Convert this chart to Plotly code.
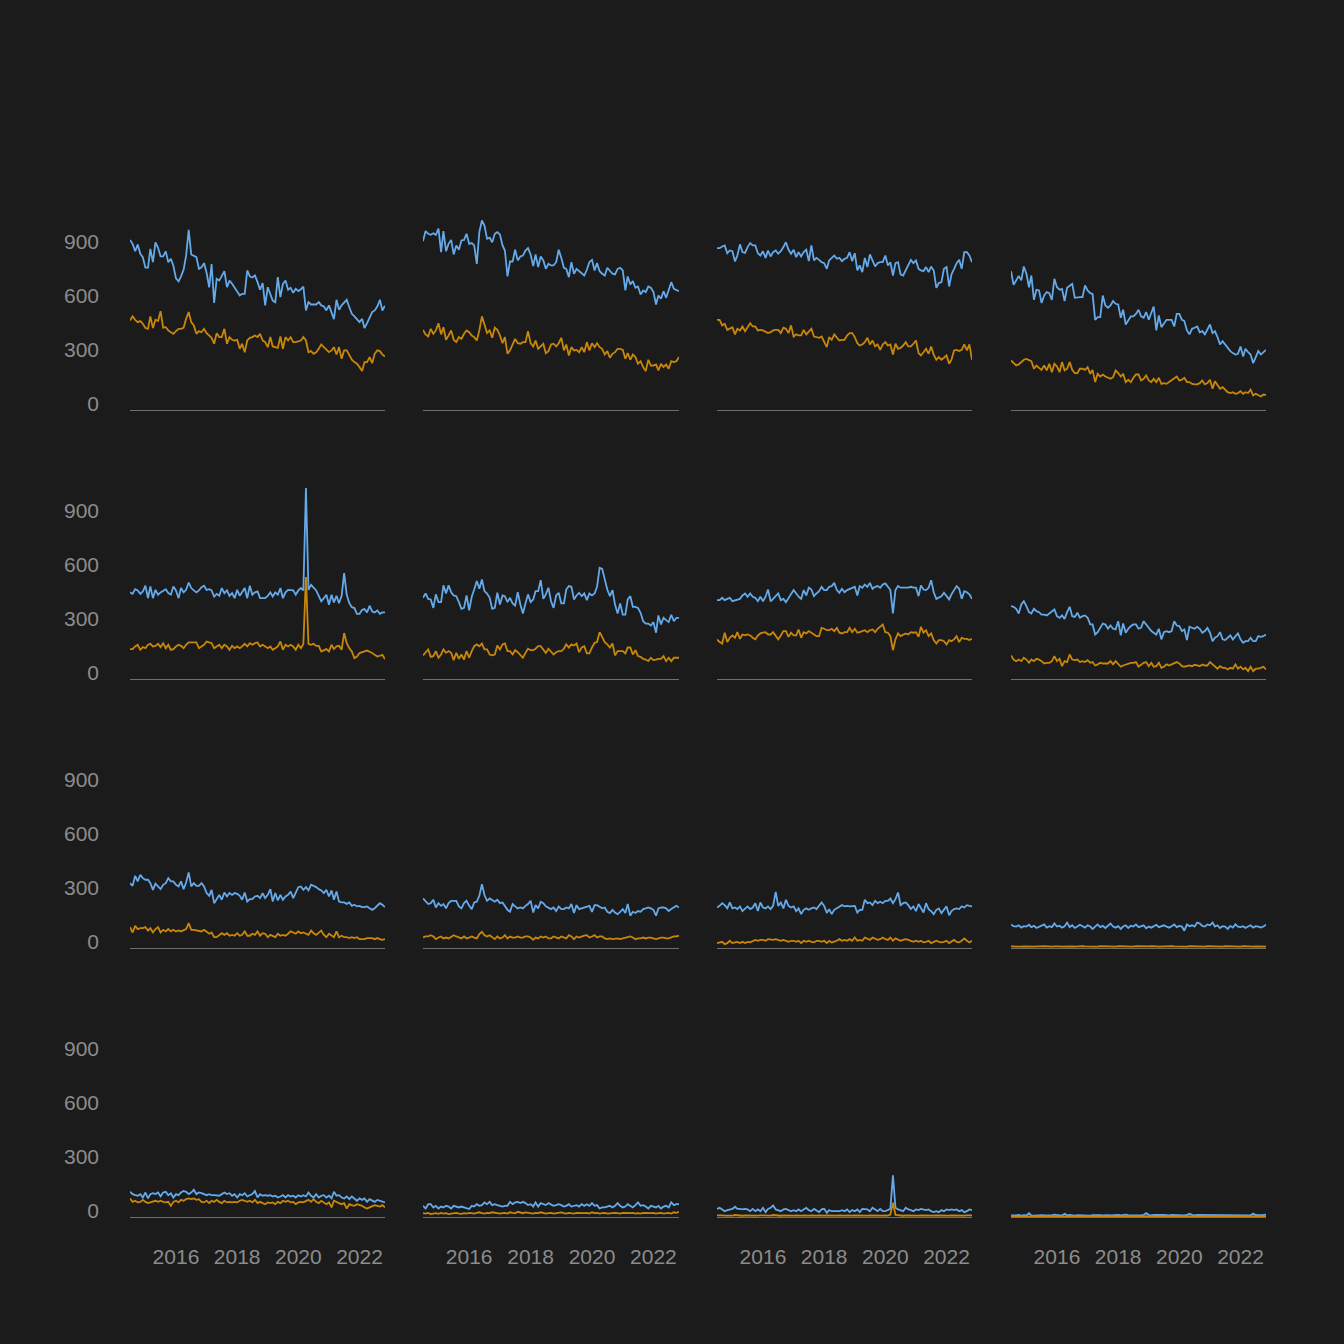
import plotly.graph_objects as go
import pandas as pd

# ---------------- data (monthly, Jul 2014 .. Nov 2022) ----------------
start_month = "2014-07-01"
end_month = "2022-11-01"
year_ticks = ["2016-01-01", "2018-01-01", "2020-01-01", "2022-01-01"]
year_labels = ["2016", "2018", "2020", "2022"]
y_ticks = [0, 300, 600, 900]

p1_blue = [944,922,881,918,867,848,790,790,894,820,
930,900,852,852,880,820,839,800,730,713,
741,778,857,1000,863,857,848,783,792,815,
760,680,810,594,728,718,740,770,681,718,
700,678,659,635,644,644,774,741,735,746,
709,667,704,580,681,640,607,598,737,626,
700,718,667,678,650,672,660,670,685,552,
598,585,585,585,598,580,574,552,580,533,
504,611,556,580,598,611,570,533,519,500,
487,505,454,481,515,543,552,574,611,552,
578]
p1_orange = [496,519,500,487,493,478,454,450,519,454,
500,493,548,456,459,441,431,422,437,450,
450,456,506,543,487,469,422,437,431,450,
426,413,400,367,426,404,404,450,367,404,
389,385,389,339,367,320,385,400,404,413,
404,422,385,376,348,404,352,348,344,407,
339,404,385,404,376,376,381,385,404,385,
320,326,311,320,339,363,348,333,320,330,
348,307,348,283,330,330,302,278,265,256,
237,215,265,265,293,259,311,330,326,307,
296]

p2_blue = [937,993,978,972,981,972,1006,876,993,881,
922,944,863,913,889,941,944,978,922,926,
913,811,987,1052,1024,950,956,931,978,987,
974,913,885,741,824,824,889,830,852,857,
885,898,863,798,863,793,852,830,783,811,
802,802,820,889,844,789,783,737,820,756,
783,770,759,746,778,820,833,774,815,770,
756,746,789,774,756,752,783,789,774,663,
741,696,715,678,685,641,663,654,685,678,
654,585,635,617,659,622,667,709,672,667,
659]
p2_orange = [444,419,407,450,422,441,481,419,459,389,
413,441,389,376,404,394,422,441,431,413,
404,385,441,519,474,426,441,400,456,444,
413,370,404,311,330,367,394,370,367,376,
376,437,370,352,385,339,352,367,315,326,
363,367,352,370,400,330,363,302,348,330,
333,320,348,320,376,330,370,348,370,348,
339,307,326,289,311,320,339,339,333,283,
315,278,307,293,256,270,237,215,278,246,
246,252,219,256,237,252,228,270,265,270,
293]

p3_blue = [898,898,907,913,870,885,881,824,857,919,
876,872,904,926,913,913,870,857,881,844,
885,852,876,885,867,881,904,931,889,867,
889,848,876,852,876,889,826,913,830,844,
833,820,815,783,830,844,857,839,844,826,
839,844,876,826,870,774,802,765,844,793,
863,830,796,815,820,820,857,802,820,746,
815,820,752,746,774,807,833,815,830,783,
774,770,793,765,796,774,678,704,709,783,
793,685,752,783,815,833,783,876,876,857,
820]
p3_orange = [500,500,469,478,444,450,459,419,450,441,
463,437,463,481,463,463,441,444,441,431,
426,431,441,444,444,426,456,450,426,469,
407,419,413,413,444,419,437,450,407,404,
400,407,376,348,404,389,419,400,385,389,
389,413,426,426,404,370,357,363,376,400,
363,385,352,363,333,363,376,357,363,307,
367,339,344,357,376,352,352,367,385,315,
302,320,339,311,352,307,278,293,278,289,
302,256,278,330,333,326,333,363,330,363,
278]

p4_blue = [770,694,719,744,719,796,756,681,746,611,
667,663,593,635,654,648,611,728,681,667,
672,604,678,691,700,622,626,626,626,691,
663,648,644,500,515,515,635,580,567,580,
604,589,585,511,556,474,496,519,519,533,
556,519,511,543,500,543,574,441,524,459,
481,500,500,500,463,533,533,500,493,441,
419,450,456,463,431,437,419,450,474,426,
437,404,363,381,363,344,326,315,307,311,
352,296,339,320,307,259,296,326,307,320,
333]
p4_orange = [274,259,246,252,265,278,283,274,270,228,
246,233,222,246,219,256,209,256,241,209,
265,219,228,265,222,204,204,228,228,222,
237,200,222,154,200,185,196,185,178,172,
181,219,204,185,200,154,167,154,178,196,
196,163,172,191,163,154,172,154,178,144,
148,144,154,163,172,185,163,167,178,154,
154,144,141,141,148,163,141,148,167,117,
159,135,117,126,111,98,93,98,89,93,
104,89,98,93,111,80,89,80,74,85,
83]

p5_blue = [480,472,498,491,472,485,517,448,513,448,
494,467,480,491,498,476,467,513,491,448,
504,480,494,535,504,491,480,491,509,517,
494,498,491,457,472,461,504,476,491,461,
476,448,494,461,480,504,448,517,467,480,
485,448,448,448,461,480,457,480,467,504,
448,480,494,494,491,467,491,504,491,1060,
494,522,509,491,461,430,448,467,411,467,
424,461,420,461,587,467,420,398,393,361,
361,383,387,369,406,374,369,380,361,369,
369]
p5_orange = [165,165,180,189,161,176,170,189,194,180,
183,194,176,198,170,189,161,165,180,189,
183,170,189,202,202,202,202,170,180,189,
207,202,198,170,180,189,170,189,180,161,
183,170,180,170,180,194,180,198,189,198,
202,180,189,180,170,180,161,170,180,207,
161,189,180,189,180,161,189,170,194,565,
194,189,194,183,183,152,161,165,152,189,
165,180,183,161,254,198,170,152,115,124,
143,146,152,157,152,143,133,124,128,133,
109]

p6_blue = [450,474,444,441,394,469,426,426,519,474,
519,481,463,459,426,389,394,463,381,456,
496,543,500,552,487,474,450,389,394,478,
413,463,459,426,450,419,407,481,413,363,
419,469,426,441,487,487,548,444,469,506,
431,394,463,478,419,419,496,515,511,441,
463,478,459,474,437,474,463,474,511,617,
611,543,496,459,493,413,363,419,357,357,
441,459,400,400,394,367,320,307,307,296,
315,256,352,302,339,326,315,356,320,339,
339]
p6_orange = [130,148,163,122,126,154,117,135,163,144,
154,144,104,144,111,135,107,154,117,154,
181,191,181,196,163,163,135,130,135,185,
163,191,196,154,154,135,159,148,135,117,
144,167,159,159,167,181,181,163,144,167,
148,135,148,154,154,167,191,174,191,185,
196,148,174,181,141,141,174,200,204,259,
233,204,191,174,196,130,154,154,154,141,
174,174,135,159,126,122,111,107,98,117,
104,107,111,111,126,98,117,98,117,117,
117]

p7_blue = [437,437,450,437,444,450,431,437,441,444,
463,474,456,474,456,450,431,456,431,456,
496,431,444,459,474,437,444,426,450,474,
493,474,456,444,493,463,506,496,459,474,
487,511,493,493,511,515,533,493,478,500,
481,493,500,506,511,463,515,506,524,511,
533,500,511,515,506,524,530,511,493,363,
493,515,506,506,506,506,511,506,506,459,
519,496,493,506,548,481,444,450,459,478,
459,441,469,496,515,500,444,487,481,469,
444]
p7_orange = [219,204,196,256,204,228,241,228,259,222,
246,241,246,241,228,219,241,252,256,259,
246,246,259,237,219,241,265,265,233,256,
241,241,274,228,259,252,265,256,246,237,
237,283,278,270,270,278,265,283,256,252,
259,259,283,259,278,256,259,265,270,259,
270,274,259,278,289,302,259,256,237,159,
219,252,237,246,252,246,259,256,259,233,
289,256,270,237,252,215,196,215,215,209,
191,215,209,219,237,204,228,222,222,215,
222]

p8_blue = [404,400,389,363,413,431,404,370,363,389,
376,370,357,357,352,363,376,385,348,339,
352,333,370,400,348,344,367,339,348,352,
339,302,302,246,259,283,307,302,278,296,
278,274,320,241,307,256,278,293,302,302,
278,283,320,302,283,265,256,246,278,219,
259,265,259,265,320,296,293,265,274,215,
289,283,278,289,278,256,265,283,256,209,
228,237,259,219,215,228,241,219,237,252,
219,200,209,209,228,209,209,237,233,237,
246]
p8_orange = [130,107,98,107,98,117,107,89,107,98,
111,107,98,85,89,89,98,126,98,111,
70,98,93,135,107,104,107,93,98,93,
104,89,93,74,80,89,85,85,85,98,
80,98,80,67,74,80,85,89,89,93,
67,80,89,93,70,89,67,70,89,61,
67,80,74,80,85,93,85,70,67,70,
74,70,78,74,70,80,74,74,93,80,
70,56,70,61,61,52,61,56,80,56,
67,52,61,43,67,43,56,56,61,67,
52]

p9_blue = [359,344,400,369,406,387,378,378,359,322,
356,341,326,350,359,387,369,369,350,341,
369,326,363,419,341,359,344,344,359,341,
304,289,322,248,270,294,267,307,285,304,
294,304,300,289,267,307,257,270,270,285,
289,276,304,276,294,326,257,304,263,294,
267,285,294,313,276,307,337,341,322,337,
319,350,344,337,326,319,304,322,285,319,
267,313,257,252,252,244,252,233,239,230,
233,226,226,230,220,211,220,233,248,239,
226]
p9_orange = [115,85,122,104,109,109,115,96,109,85,
104,115,85,100,91,104,91,100,91,96,
91,100,104,137,100,100,96,96,91,100,
91,78,85,59,59,72,81,72,81,67,
72,67,81,67,72,91,67,67,78,72,
91,67,81,78,59,72,67,59,78,67,
72,67,78,91,85,78,91,81,85,78,
72,96,81,72,85,96,72,59,78,67,
59,91,59,67,59,59,54,59,54,59,
48,48,48,54,54,54,48,54,48,44,
48]

p10_blue = [274,261,243,248,267,224,248,233,243,219,
248,261,261,261,230,219,248,261,233,215,
252,256,289,354,293,261,274,267,256,267,
248,252,233,211,200,243,230,219,224,219,
233,243,261,196,237,219,256,248,230,224,
215,224,204,230,215,215,224,219,243,193,
237,215,219,224,230,233,200,237,237,230,
219,224,200,193,211,196,187,200,215,193,
243,178,200,193,204,200,215,219,224,219,
211,178,219,224,224,219,204,215,224,233,
224]
p10_orange = [57,63,63,70,63,48,57,63,52,57,
52,63,70,63,57,52,63,52,57,63,
57,52,76,89,70,63,70,57,48,63,
52,57,70,52,63,57,57,63,57,57,
63,63,57,44,57,52,63,57,63,52,
52,63,57,52,63,57,52,70,63,48,
63,57,63,67,70,57,63,70,57,63,
63,52,48,52,48,52,52,48,52,57,
63,63,57,48,52,52,57,52,57,57,
52,48,52,57,57,52,52,57,63,63,
67]

p11_blue = [224,233,248,237,219,252,219,224,215,230,
204,219,230,215,224,248,204,252,224,219,
230,215,233,311,233,252,219,267,233,224,
230,204,219,187,211,219,211,219,224,215,
237,252,233,193,215,187,211,219,230,237,
230,233,230,233,233,196,211,211,267,248,
252,237,261,248,256,248,261,261,274,248,
270,307,237,248,252,237,215,230,204,243,
224,196,248,215,204,187,211,219,193,215,
230,181,204,215,219,215,230,224,237,233,
230]
p11_orange = [26,30,33,20,26,39,26,30,33,26,
33,26,33,30,39,44,39,44,44,39,
48,44,44,48,44,39,44,39,33,39,
39,33,39,26,39,33,39,33,30,39,
39,33,39,26,39,30,33,39,48,39,
44,39,48,39,57,39,44,39,57,48,
44,57,48,44,48,57,48,44,57,39,
52,44,39,44,48,44,39,33,39,33,
39,30,33,39,26,33,39,33,30,33,
39,26,33,44,33,30,39,52,39,30,
39]

p12_blue = [130,120,118,125,112,120,118,128,115,122,
110,118,125,130,112,120,115,135,118,122,
112,120,140,115,125,110,118,128,120,112,
125,118,105,120,130,115,122,110,125,135,
118,112,120,105,118,125,110,122,118,130,
115,120,125,108,118,112,120,128,115,120,
125,118,112,120,130,115,122,118,95,130,
120,125,118,140,135,122,118,130,125,140,
118,125,110,120,118,105,122,112,130,118,
115,120,110,118,125,112,120,118,112,118,
128]
p12_orange = [8,7,9,8,6,8,7,9,8,7,
8,6,8,9,7,8,7,8,10,8,
7,8,9,7,8,6,8,7,9,8,
7,8,6,8,7,9,8,7,8,6,
8,7,9,8,7,8,6,8,7,9,
8,7,8,6,8,9,7,8,7,8,
6,8,7,9,8,7,8,6,8,7,
9,8,7,8,6,8,7,9,8,7,
8,6,8,7,9,8,7,8,6,8,
7,9,8,7,8,6,8,7,9,8,
7]

p13_blue = [139,126,120,117,126,107,135,102,126,131,
126,135,113,135,139,120,131,107,126,120,
135,144,139,126,135,150,126,135,131,126,
120,126,120,120,120,117,126,135,126,131,
117,126,107,126,120,131,113,120,126,143,
107,126,117,120,117,120,113,117,107,113,
120,107,120,113,117,107,120,113,120,113,
135,117,107,126,107,117,120,107,117,102,
139,117,120,107,102,113,98,113,102,89,
102,94,102,83,98,89,83,94,89,83,
80]
p13_orange = [102,83,89,80,83,94,83,76,80,83,
89,83,89,83,80,83,61,83,89,80,
94,89,98,102,98,102,94,98,83,80,
89,76,89,83,94,83,76,89,80,83,
80,83,80,89,94,89,83,89,80,94,
76,83,76,70,80,76,80,70,83,76,
89,83,89,80,83,70,80,83,80,89,
94,83,98,83,76,89,80,70,80,52,
89,80,76,70,76,46,70,65,61,70,
65,61,52,46,52,57,65,61,57,65,
52]

p14_blue = [61,46,70,70,52,61,46,57,52,61,
57,46,61,57,52,57,52,46,43,61,
57,70,61,65,80,70,83,65,70,65,
61,57,61,61,83,70,80,83,76,83,
76,65,70,57,80,57,76,70,65,76,
70,61,65,70,65,57,61,70,57,61,
65,57,70,61,70,61,76,61,65,46,
52,52,57,61,52,61,76,61,52,57,
70,61,52,65,80,61,65,57,46,61,
57,52,61,46,57,61,52,80,65,70,
70]
p14_orange = [20,18,22,15,18,20,16,22,18,20,
15,18,20,22,18,16,20,18,22,20,
18,22,25,20,18,22,20,25,22,20,
18,20,22,18,25,22,20,28,22,20,
25,22,20,18,22,20,25,22,18,20,
22,18,20,22,25,20,18,22,20,18,
22,20,18,20,22,18,25,20,22,18,
20,22,18,20,18,22,20,18,22,20,
18,20,22,18,20,18,22,20,18,20,
22,18,20,22,18,20,22,18,25,22,
28]

p15_blue = [44,50,41,31,37,41,44,56,44,44,
41,44,41,31,44,31,41,31,50,26,
44,50,63,41,37,31,41,44,37,31,
37,31,41,31,41,50,37,31,44,37,
26,41,44,22,37,31,31,31,31,37,
31,41,26,37,31,41,26,44,41,41,
31,50,41,31,44,31,31,37,44,230,
50,41,37,31,50,41,37,31,41,37,
44,41,37,41,31,26,31,26,37,31,
41,37,41,37,41,31,37,26,31,41,
37]
p15_orange = [8,6,8,7,6,8,7,10,8,7,
6,8,7,6,8,7,6,8,7,6,
8,7,10,8,7,6,8,7,6,8,
7,8,6,7,8,6,7,8,6,7,
8,6,7,8,7,6,8,7,8,6,
7,8,6,7,8,7,6,8,7,6,
8,7,6,8,7,6,8,7,12,78,
10,8,7,6,8,7,6,8,7,6,
8,7,6,8,7,6,8,7,6,8,
7,6,8,7,6,8,7,6,8,7,
8]

p16_blue = [8,6,8,10,7,9,8,20,8,6,
8,7,9,8,7,10,8,12,9,8,
7,17,8,10,8,7,9,8,10,9,
8,7,9,10,12,9,8,10,9,8,
10,9,11,8,10,12,9,8,10,10,
9,8,10,20,11,8,10,9,8,10,
11,9,8,10,9,8,10,9,8,10,
17,11,8,10,10,9,8,10,9,8,
10,9,8,10,9,8,10,9,8,10,
9,8,10,9,8,18,10,9,8,10,
12]
p16_orange = [3,2,3,2,3,2,2,3,2,3,
2,3,2,2,3,2,3,2,3,2,
2,3,2,3,2,3,2,2,3,2,
3,2,3,2,2,3,2,3,2,3,
2,2,3,2,3,2,3,2,2,3,
2,3,2,3,2,2,3,2,3,2,
3,2,2,3,2,3,2,3,2,2,
3,2,3,2,3,2,2,3,2,3,
2,3,2,2,3,2,3,2,3,2,
2,3,2,3,2,3,2,2,3,2,
3]

panels = [
    (p1_blue, p1_orange), (p2_blue, p2_orange), (p3_blue, p3_orange), (p4_blue, p4_orange),
    (p5_blue, p5_orange), (p6_blue, p6_orange), (p7_blue, p7_orange), (p8_blue, p8_orange),
    (p9_blue, p9_orange), (p10_blue, p10_orange), (p11_blue, p11_orange), (p12_blue, p12_orange),
    (p13_blue, p13_orange), (p14_blue, p14_orange), (p15_blue, p15_orange), (p16_blue, p16_orange),
]

# ---------------- styling / layout ----------------
months = pd.date_range(start_month, end_month, freq="MS")
BG = "#1b1b1b"
BLUE = "#64aaeb"
ORANGE = "#c8870b"
LABEL = "#8c8c8c"
AXIS = "#6f6f6f"
FONT = "Liberation Sans, Arial, sans-serif"
W = 1344          # reference frame size
H_REF = 1344
FIG_H = 1349      # page capture is a few px taller than the frame

col_px = [(130, 385), (423, 679), (717, 972), (1011, 1266)]
row_base = [409.8, 678.8, 947.8, 1216.8]
YMIN, YMAX = -2, 1080
PX_PER_UNIT = 0.18

fig = go.Figure()
layout = {}
for idx, (blue, orange) in enumerate(panels):
    assert len(blue) == len(months), (idx, "blue", len(blue))
    assert len(orange) == len(months), (idx, "orange", len(orange))
    r, c = divmod(idx, 4)
    n = idx + 1
    xs = "" if n == 1 else str(n)
    xref, yref = "x" + xs, "y" + xs
    for vals, col in ((blue, BLUE), (orange, ORANGE)):
        fig.add_trace(go.Scatter(
            x=months, y=vals, mode="lines",
            line=dict(color=col, width=1.8),
            xaxis=xref, yaxis=yref, hoverinfo="skip", showlegend=False,
        ))
    x0, x1 = col_px[c]
    base = row_base[r]
    bottom_px = base - YMIN * PX_PER_UNIT
    top_px = base - YMAX * PX_PER_UNIT
    layout["xaxis" + xs] = dict(
        domain=[x0 / W, x1 / W], range=[months[0], months[-1]],
        anchor=yref, showgrid=False, zeroline=False,
        showline=True, linecolor=AXIS, linewidth=1, layer="below traces",
        tickmode="array", tickvals=year_ticks, ticktext=year_labels,
        ticks="", showticklabels=(r == 3), ticklabelstandoff=21,
        tickfont=dict(family=FONT, size=21, color=LABEL),
    )
    layout["yaxis" + xs] = dict(
        domain=[1 - bottom_px / H_REF, 1 - top_px / H_REF], range=[YMIN, YMAX],
        anchor=xref, showgrid=False, zeroline=False, showline=False,
        tickmode="array", tickvals=y_ticks, ticks="",
        showticklabels=(c == 0), ticklabelstandoff=30, ticklabelshift=-6,
        tickfont=dict(family=FONT, size=21, color=LABEL),
    )

fig.update_layout(
    width=W, height=FIG_H,
    margin=dict(l=0, r=0, t=0, b=0),
    paper_bgcolor=BG, plot_bgcolor=BG,
    showlegend=False,
    font=dict(family=FONT, color=LABEL),
    **layout,
)

page_fix = (
    "var de=document.documentElement, b=document.body;"
    "de.style.margin='0'; b.style.margin='0'; b.style.padding='0';"
    "de.style.overflow='hidden'; b.style.overflow='hidden';"
    "de.style.background='#1b1b1b'; b.style.background='#1b1b1b';"
)

fig.write_html(
    "out.html",
    config={"displayModeBar": False, "staticPlot": True},
    post_script=page_fix,
)
